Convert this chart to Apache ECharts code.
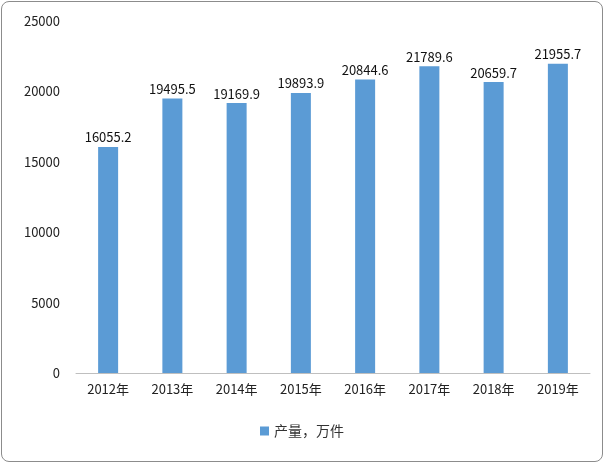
<!DOCTYPE html>
<html lang="zh">
<head>
<meta charset="UTF-8">
<style>
  html,body{margin:0;padding:0;background:#fff;}
  #box{position:absolute;left:1px;top:1px;width:600px;height:459px;border:1px solid #8c8c8c;border-radius:8px;}
  #main{width:600px;height:459px;}
</style>
</head>
<body>
<div id="box"><div id="main"></div></div>
<script src="https://cdn.jsdelivr.net/npm/echarts@6/dist/echarts.min.js"></script>
<script>
const years = ['2012年','2013年','2014年','2015年','2016年','2017年','2018年','2019年'];
const output = [16055.2, 19495.5, 19169.9, 19893.9, 20844.6, 21789.6, 20659.7, 21955.7];
const seriesName = '产量，万件';

let chart = echarts.init(document.getElementById('main'));
chart.setOption({
  textStyle:{fontFamily:'"Noto Sans CJK SC", sans-serif'},
  grid:{left:74, right:12, top:19, bottom:88},
  legend:{bottom:18, left:'center', itemWidth:9, itemHeight:9, icon:'rect',
    textStyle:{fontSize:14, color:'#333'}},
  xAxis:{type:'category', data:years,
    axisLine:{lineStyle:{color:'#bfbfbf'}}, axisTick:{show:false},
    axisLabel:{color:'#222', fontSize:13, margin:10}},
  yAxis:{type:'value', min:0, max:25000, interval:5000,
    splitLine:{show:false}, axisLine:{show:false}, axisTick:{show:false},
    axisLabel:{color:'#222', fontSize:13, margin:16, formatter:v => String(v)}},
  series:[{
    name:seriesName, type:'bar', data:output, barWidth:20,
    itemStyle:{color:'#5b9bd5'},
    label:{show:true, position:'top', color:'#111', fontSize:13, distance:3}
  }]
});
</script>
</body>
</html>
